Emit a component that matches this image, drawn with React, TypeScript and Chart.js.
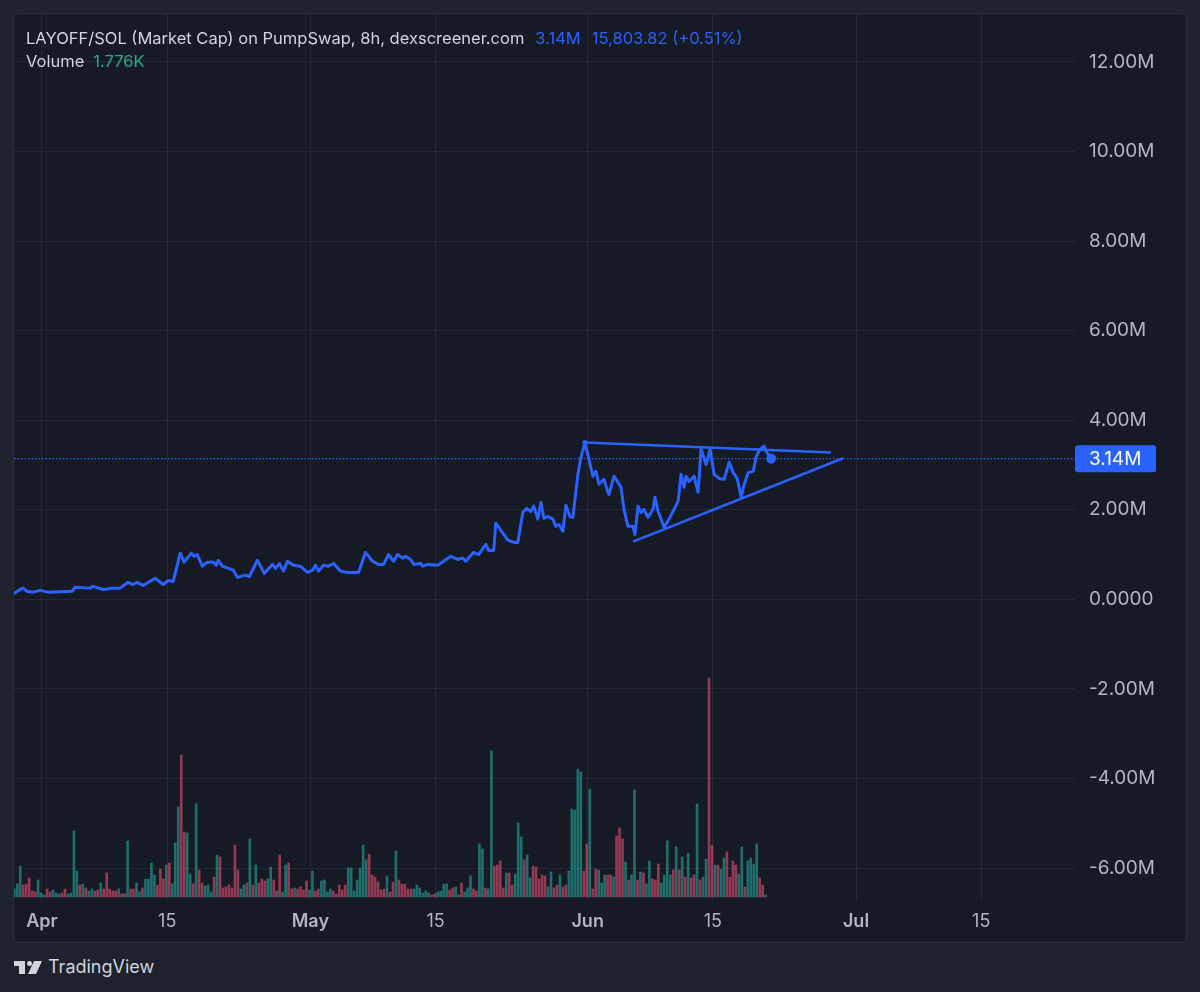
import React, { useEffect, useRef } from 'react';
import { Chart, registerables } from 'chart.js';

Chart.register(...registerables);

const FONT = 'Inter, "Noto Sans", "DejaVu Sans", sans-serif';

// ---- axis ticks ----
const xTickDays = [0, 14, 30, 44, 61, 75, 91, 105];
const xTickLabels = ['Apr', '15', 'May', '15', 'Jun', '15', 'Jul', '15'];
const yTickValues = [-6, -4, -2, 0, 2, 4, 6, 8, 10, 12];

// ---- market cap line (days since Apr 1, value in millions) ----
const priceDays = [
  -3.14, -2.46, -2.13, -1.68, -1.01, -0.22, 0.67, 3.36, 3.7, 5.38,
  5.71, 6.83, 7.95, 8.73, 9.63, 10.19, 10.64, 11.31, 12.65, 13.55,
  14.11, 14.67, 15.45, 15.9, 16.69, 17.02, 17.36, 17.92, 18.48, 19.15,
  19.48, 19.71, 20.16, 21.39, 21.84, 22.73, 23.18, 24.08, 24.86, 25.76,
  26.09, 26.54, 26.99, 27.44, 28.11, 28.89, 29.68, 30.24, 30.57, 30.91,
  31.47, 32.03, 32.59, 33.37, 34.15, 35.39, 36.17, 36.95, 37.63, 38.19,
  38.75, 39.31, 39.75, 40.31, 40.65, 41.21, 41.55, 42.33, 42.55, 43.11,
  44.23, 44.9, 45.69, 46.47, 47.03, 47.37, 48.26, 48.82, 49.61, 49.94,
  50.5, 50.73, 52.07, 52.74, 53.19, 53.75, 54.2, 54.65, 54.98, 55.43,
  55.77, 56.1, 56.55, 57.11, 57.45, 57.78, 58.23, 58.57, 59.01, 59.35,
  59.91, 60.25, 60.69, 61.14, 61.59, 61.93, 62.26, 62.82, 63.16, 63.38,
  63.94, 64.17, 64.73, 65.06, 65.51, 66.07, 66.29, 66.63, 66.97, 67.3,
  67.75, 68.31, 68.53, 68.87, 69.09, 69.54, 70.1, 70.66, 71.11, 71.44,
  71.78, 72.0, 72.34, 72.9, 73.35, 73.68, 74.24, 74.69, 75.14, 75.7,
  76.26, 76.82, 77.27, 77.72, 78.16, 78.5, 78.95, 79.51, 79.84, 80.29,
  80.74, 80.96, 81.52,
];
const priceValues = [
  0.13, 0.22, 0.25, 0.18, 0.16, 0.2, 0.16, 0.18, 0.27, 0.25,
  0.29, 0.22, 0.25, 0.25, 0.38, 0.33, 0.38, 0.31, 0.47, 0.33,
  0.42, 0.4, 1.03, 0.83, 1.03, 0.96, 1.0, 0.74, 0.83, 0.83,
  0.76, 0.87, 0.74, 0.65, 0.49, 0.54, 0.51, 0.87, 0.58, 0.78,
  0.69, 0.8, 0.63, 0.85, 0.76, 0.74, 0.6, 0.65, 0.76, 0.63,
  0.76, 0.74, 0.8, 0.63, 0.6, 0.6, 1.05, 0.85, 0.78, 0.78,
  1.0, 0.85, 1.0, 0.92, 0.96, 0.89, 0.78, 0.8, 0.74, 0.78,
  0.76, 0.85, 0.96, 0.89, 0.92, 0.85, 1.05, 1.0, 1.23, 1.09,
  1.09, 1.7, 1.32, 1.27, 1.27, 1.94, 2.03, 1.96, 2.08, 1.79,
  2.17, 1.81, 1.85, 1.79, 1.63, 1.67, 1.52, 2.1, 1.85, 1.83,
  2.79, 3.17, 3.5, 3.13, 2.75, 2.86, 2.57, 2.68, 2.46, 2.34,
  2.75, 2.68, 2.5, 2.01, 1.63, 1.63, 1.45, 2.08, 1.94, 2.01,
  1.83, 2.01, 2.28, 1.96, 1.85, 1.61, 1.79, 2.01, 2.19, 2.79,
  2.5, 2.75, 2.63, 2.75, 2.39, 3.35, 3.01, 3.35, 2.79, 2.7,
  2.68, 3.06, 2.83, 2.7, 2.28, 2.57, 2.83, 2.86, 3.19, 3.35,
  3.42, 3.3, 3.15,
];

const lastDay = 81.52;
const lastPrice = 3.14;
const lastPriceLabel = '3.14M';

// ---- drawn trendlines ----
const upperTrendDays = [60.69, 88.2];
const upperTrendValues = [3.5, 3.28];
const lowerTrendDays = [66.07, 89.55];
const lowerTrendValues = [1.29, 3.15];

// ---- volume (8h bars, K) ----
const volumeStartDay = -3.1;
const volumeStepDays = 1 / 3;
const volumeValues = [
  8, 13, 31, 12, 13, 19, 6, 5, 17, 4,
  2, 8, 5, 7, 4, 3, 4, 8, 3, 4,
  66, 26, 12, 13, 9, 6, 8, 6, 7, 14,
  8, 24, 8, 6, 6, 8, 3, 3, 56, 8,
  8, 14, 5, 9, 18, 18, 34, 22, 12, 28,
  18, 32, 34, 13, 54, 90, 142, 65, 64, 23,
  13, 93, 27, 14, 11, 12, 5, 20, 42, 40,
  9, 10, 12, 9, 52, 27, 8, 12, 14, 58,
  12, 32, 14, 18, 16, 18, 30, 17, 6, 42,
  5, 32, 34, 8, 9, 8, 10, 7, 16, 7,
  26, 6, 8, 16, 17, 5, 8, 6, 3, 12,
  7, 12, 29, 29, 6, 17, 29, 52, 37, 43,
  22, 20, 15, 7, 8, 21, 5, 15, 46, 17,
  13, 13, 8, 8, 8, 12,
  9, 4, 6, 4, 2, 3, 5, 6, 13, 13,
  7, 9, 10, 2, 14, 5, 9, 21, 8, 6,
  53, 48, 9, 8, 146, 31, 32, 36, 9, 24,
  24, 12, 23, 74, 60, 37, 42, 19, 31, 30,
  18, 22, 21, 10, 25, 9, 12, 22, 10, 12,
  26, 88, 87, 128, 125, 26, 53, 108, 8, 28,
  27, 14, 22, 22, 22, 20, 61, 69, 58, 35,
  17, 22, 107, 17, 25, 24, 13, 36, 18, 17,
  33, 14, 22, 56, 22, 27, 50, 27, 40, 20,
  44, 19, 22, 93, 17, 20, 38, 219, 52, 32,
  32, 28, 39, 45, 20, 36, 32, 23, 50, 10,
  36, 39, 33, 53, 19, 12, 2,
];
const volumeDirs =
  'gggrrrrrgg' + 'grrgggrrgg' + 'ggrgrggrrg' + 'rrrrrgrrgr' + 'rggrggggrr' +
  'rgrgggrrgg' + 'rgrrgggrgr' + 'rrrrrrggrg' + 'rgrrrggrgr' + 'ggrrgrrrrg' +
  'grrggggrrr' + 'rrgggggggr' + 'rrrrrgrrgr' + 'rrrrgg' +
  'ggggrrgggg' + 'rrggrgggrr' + 'ggrggrrrrg' + 'rrgggrggrr' + 'rrrggrrgrr' +
  'gggggrrgrr' + 'gggrrgrrrg' + 'rggrgrggrr' + 'rggggrgrgr' + 'grrgrggrrg' +
  'rggrrrrggr' + 'ggggrrg';

const X_MIN = -3.13;
const X_MAX = 115.48;
const Y_MIN = -6.714;
const Y_MAX = 13.07;

const BLUE = '#2962ff';
const TEXT = '#b2b5be';
const GRID = '#252935';
const VOL_UP = 'rgba(38,166,154,0.6)';
const VOL_DOWN = 'rgba(230,80,115,0.6)';

const priceTag = {
  id: 'priceTag',
  afterDraw(chart: any) {
    const c = chart.ctx;
    const y = chart.scales.y.getPixelForValue(lastPrice);
    const x0 = chart.chartArea.right;
    c.save();
    c.fillStyle = BLUE;
    c.beginPath();
    if (c.roundRect) c.roundRect(x0, y - 13.5, 81, 27, 3);
    else c.rect(x0, y - 13.5, 81, 27);
    c.fill();
    c.fillStyle = '#ffffff';
    c.font = `19px ${FONT}`;
    c.textBaseline = 'middle';
    c.textAlign = 'left';
    c.fillText(lastPriceLabel, x0 + 14, y + 1);
    c.restore();
  },
};

export default function App() {
  const ref = useRef<HTMLCanvasElement>(null);

  useEffect(() => {
    document.body.style.margin = '0';
    const canvas = ref.current!;
    const chart = new Chart(canvas, {
      type: 'line',
      data: {
        datasets: [
          {
            type: 'line',
            label: 'Market Cap',
            data: priceDays.map((d, i) => ({ x: d, y: priceValues[i] })),
            borderColor: BLUE,
            borderWidth: 3,
            pointRadius: 0,
            tension: 0,
            borderJoinStyle: 'round',
            yAxisID: 'y',
            order: 1,
          },
          {
            type: 'line',
            label: 'upper',
            data: upperTrendDays.map((d, i) => ({ x: d, y: upperTrendValues[i] })),
            borderColor: BLUE,
            backgroundColor: BLUE,
            borderWidth: 2.5,
            pointRadius: [2.5, 0],
            pointBorderWidth: 0,
            yAxisID: 'y',
            order: 1,
          },
          {
            type: 'line',
            label: 'lower',
            data: lowerTrendDays.map((d, i) => ({ x: d, y: lowerTrendValues[i] })),
            borderColor: BLUE,
            borderWidth: 2.5,
            pointRadius: 0,
            yAxisID: 'y',
            order: 1,
          },
          {
            type: 'line',
            label: 'last',
            data: [
              { x: X_MIN, y: lastPrice },
              { x: X_MAX, y: lastPrice },
            ],
            borderColor: BLUE,
            borderWidth: 1.2,
            borderDash: [1.5, 2],
            pointRadius: 0,
            yAxisID: 'y',
            order: 2,
          },
          {
            type: 'scatter' as any,
            label: 'dot',
            data: [{ x: lastDay, y: lastPrice }],
            backgroundColor: BLUE,
            borderColor: BLUE,
            pointRadius: 4.5,
            showLine: false,
            yAxisID: 'y',
            order: 0,
          },
          {
            type: 'bar',
            label: 'Volume',
            data: volumeValues.map((v, i) => ({ x: volumeStartDay + i * volumeStepDays, y: v })) as any,
            backgroundColor: volumeValues.map((_, i) => (volumeDirs[i] === 'g' ? VOL_UP : VOL_DOWN)),
            borderWidth: 0,
            barThickness: 2,
            yAxisID: 'yv',
            order: 10,
          } as any,
        ],
      },
      options: {
        responsive: false,
        animation: false,
        events: [],
        layout: { padding: 0, autoPadding: false },
        plugins: {
          legend: { display: false },
          tooltip: { enabled: false },
        },
        scales: {
          x: {
            type: 'linear',
            position: 'bottom',
            min: X_MIN,
            max: X_MAX,
            offset: false,
            afterBuildTicks: (s: any) => {
              s.ticks = xTickDays.map((v) => ({ value: v }));
            },
            afterFit: (s: any) => {
              s.height = 42;
              s.paddingLeft = 0;
              s.paddingRight = 0;
            },
            grid: { color: GRID, drawTicks: false, tickLength: 0, offset: false },
            border: { display: false },
            ticks: {
              autoSkip: false,
              maxRotation: 0,
              padding: 11,
              color: TEXT,
              font: (ctx: any) => ({
                family: FONT,
                size: 18,
                weight: ctx.index % 2 === 0 ? '600' : '400',
              }),
              callback: (_v: any, i: number) => xTickLabels[i],
            },
          },
          y: {
            type: 'linear',
            position: 'right',
            min: Y_MIN,
            max: Y_MAX,
            afterBuildTicks: (s: any) => {
              s.ticks = yTickValues.map((v) => ({ value: v }));
            },
            afterFit: (s: any) => {
              s.width = 111;
              s.paddingTop = 0;
              s.paddingBottom = 0;
            },
            grid: { color: GRID, drawTicks: false, tickLength: 0 },
            border: { display: false },
            ticks: {
              crossAlign: 'near',
              padding: 14,
              color: TEXT,
              font: { family: FONT, size: 19 },
              callback: (v: any) => (Number(v) === 0 ? '0.0000' : Number(v).toFixed(2) + 'M'),
            },
          },
          yv: {
            type: 'linear',
            display: false,
            min: -3,
            max: 883,
          },
        },
      } as any,
      plugins: [priceTag],
    });
    return () => chart.destroy();
  }, []);

  return (
    <div
      style={{
        position: 'fixed',
        left: 0,
        top: 0,
        width: 1200,
        height: 992,
        background: '#1e222d',
        fontFamily: FONT,
        overflow: 'hidden',
      }}
    >
      <div
        style={{
          position: 'absolute',
          left: 13,
          top: 13,
          width: 1174,
          height: 930,
          boxSizing: 'border-box',
          border: '1px solid #2a2e39',
          borderRadius: 6,
          background: '#161a25',
        }}
      />
      <canvas
        ref={ref}
        width={1172}
        height={928}
        style={{ position: 'absolute', left: 14, top: 14, width: 1172, height: 928 }}
      />
      <div
        style={{
          position: 'absolute',
          left: 26,
          top: 28,
          fontSize: 16.5,
          lineHeight: '20px',
          color: '#d1d4dc',
          whiteSpace: 'nowrap',
        }}
      >
        LAYOFF/SOL (Market Cap) on PumpSwap, 8h, dexscreener.com
        <span style={{ color: BLUE, marginLeft: 11 }}>3.14M</span>
        <span style={{ color: BLUE, marginLeft: 11 }}>15,803.82 (+0.51%)</span>
      </div>
      <div
        style={{
          position: 'absolute',
          left: 26,
          top: 51,
          fontSize: 16.5,
          lineHeight: '20px',
          color: '#d1d4dc',
          whiteSpace: 'nowrap',
        }}
      >
        Volume<span style={{ color: '#22ab94', marginLeft: 9 }}>1.776K</span>
      </div>
      <div
        style={{
          position: 'absolute',
          left: 14,
          top: 955,
          display: 'flex',
          alignItems: 'center',
          color: '#d1d4dc',
          fontSize: 18,
          lineHeight: '24px',
        }}
      >
        <svg width="28" height="13" viewBox="0 0 28 13" style={{ marginRight: 6 }}>
          <rect x="0" y="0" width="11" height="5" fill="#d1d4dc" />
          <rect x="5" y="0" width="6" height="13" fill="#d1d4dc" />
          <circle cx="15.5" cy="2.5" r="2.5" fill="#d1d4dc" />
          <polygon points="20,0 28,0 22,13 14,13" fill="#d1d4dc" />
        </svg>
        <span>TradingView</span>
      </div>
    </div>
  );
}
